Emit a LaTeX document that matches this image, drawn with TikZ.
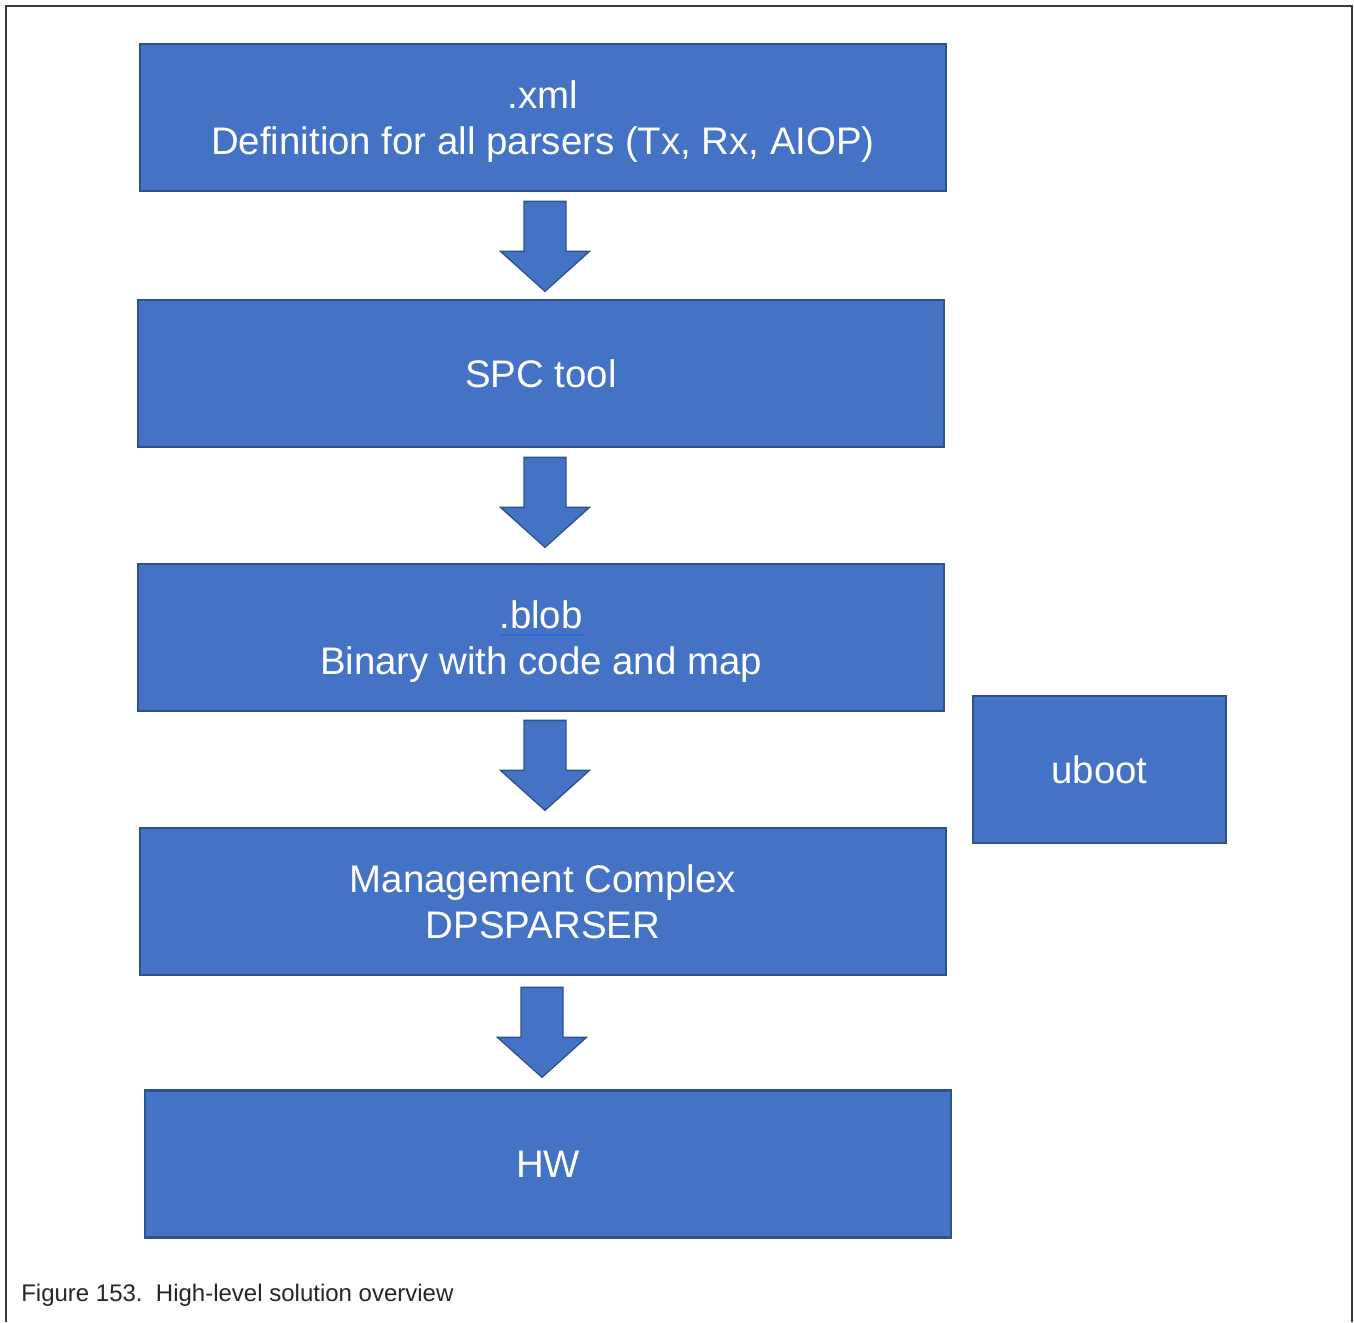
\documentclass[tikz,border=0pt]{standalone}
\usepackage{fontspec}
\setmainfont{Liberation Sans}
\usetikzlibrary{calc}
\definecolor{boxfill}{HTML}{4472C4}
\definecolor{boxline}{HTML}{2F528F}
\definecolor{ulblue}{HTML}{2E64E0}
\definecolor{framegray}{HTML}{3A3A3A}
\definecolor{captiongray}{HTML}{262626}
\tikzset{
  blockbox/.style={draw=boxline, fill=boxfill, line width=2pt, text=white,
    inner sep=0pt, align=center, minimum width=604.5pt, minimum height=110.25pt,
    text depth=0pt, font=\fontsize{28.8}{34}\selectfont},
  smallbox/.style={blockbox, minimum width=189.75pt},
  blockarrow/.style={draw=boxline, fill=boxfill, line width=1pt, line join=miter},
  captiontext/.style={text=captiongray, inner sep=0pt, anchor=west,
    font=\fontsize{18}{20}\selectfont},
}
\newcommand{\downblock}[2]{%
  \path[blockarrow] ($(#1)+(-21,0)$) -- ($(#1)+(21,0)$) -- ($(#1)+(21,50)$)
    -- ($(#1)+(44.5,50)$) -- (#2) -- ($(#1)+(-44.5,50)$) -- ($(#1)+(-21,50)$) -- cycle;}
\begin{document}
\begin{tikzpicture}[x=0.75pt,y=-0.75pt]
\useasboundingbox (0,0) rectangle (1354,1322);
\fill[white] (0,0) rectangle (1354,1322);
\draw[framegray, line width=1.6pt] (6,1322) -- (6,6) -- (1352,6) -- (1352,1322);

\node[blockbox] (xml) at (543,117.5) {.xml\\Definition for all parsers (Tx, Rx, AIOP)};
\node[blockbox] (spc) at (541,373.5) {SPC tool};
\node[blockbox] (blob) at (541,637.5) {.blob\\Binary with code and map};
\node[blockbox] (mc) at (543,901.5) {Management Complex\\DPSPARSER};
\node[blockbox] (hw) at (548,1164) {HW};
\node[smallbox] (uboot) at (1099.5,769.5) {uboot};

\draw[ulblue, line width=1.8pt] ($(blob.center)+(-41,-2.5)$) coordinate (ula) -- ($(blob.center)+(42,-2.5)$) coordinate (ulb);

\coordinate (a1s) at ($(xml.south)+(2,9)$);
\coordinate (a1t) at ($(a1s)+(0,90)$);
\coordinate (a2s) at ($(spc.south)+(4,9)$);
\coordinate (a2t) at ($(a2s)+(0,90)$);
\coordinate (a3s) at ($(blob.south)+(4,8)$);
\coordinate (a3t) at ($(a3s)+(0,90)$);
\coordinate (a4s) at ($(mc.south)+(-1,11)$);
\coordinate (a4t) at ($(a4s)+(0,90)$);
\downblock{a1s}{a1t}
\downblock{a2s}{a2t}
\downblock{a3s}{a3t}
\downblock{a4s}{a4t}

\node[captiontext] (cap) at (21,1295) {Figure 153.\ \ High-level solution overview};
\end{tikzpicture}
\end{document}
